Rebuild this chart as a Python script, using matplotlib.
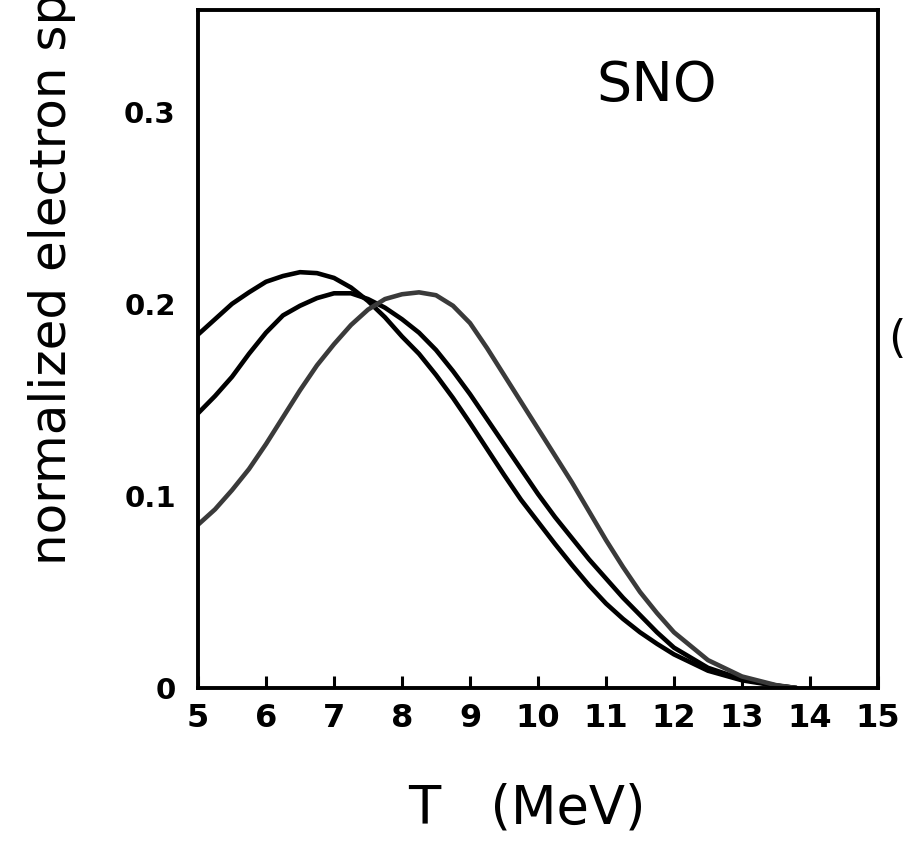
import matplotlib
matplotlib.use("Agg")
import matplotlib.pyplot as plt

# Data
T = [5.0, 5.25, 5.5, 5.75, 6.0, 6.25, 6.5, 6.75, 7.0, 7.25, 7.5, 7.75,
     8.0, 8.25, 8.5, 8.75, 9.0, 9.25, 9.5, 9.75, 10.0, 10.25, 10.5, 10.75,
     11.0, 11.25, 11.5, 11.75, 12.0, 12.5, 13.0, 13.5, 13.8]
curve_a = [0.184, 0.192, 0.200, 0.206, 0.2115, 0.2145, 0.2165, 0.2160,
           0.2135, 0.2085, 0.2015, 0.193, 0.183, 0.174, 0.163, 0.151,
           0.138, 0.1245, 0.111, 0.098, 0.0865, 0.075, 0.064, 0.0535,
           0.044, 0.036, 0.029, 0.023, 0.0175, 0.009, 0.004, 0.0012, 0.0]
curve_b = [0.143, 0.152, 0.162, 0.174, 0.185, 0.194, 0.199, 0.203,
           0.2055, 0.2055, 0.2025, 0.198, 0.192, 0.185, 0.176, 0.165,
           0.153, 0.140, 0.127, 0.114, 0.101, 0.089, 0.078, 0.067,
           0.057, 0.047, 0.038, 0.029, 0.021, 0.0105, 0.0046, 0.0013, 0.0]
curve_c = [0.085, 0.093, 0.103, 0.114, 0.127, 0.141, 0.155, 0.168,
           0.179, 0.189, 0.197, 0.2025, 0.205, 0.206, 0.2045, 0.199,
           0.190, 0.177, 0.163, 0.149, 0.135, 0.121, 0.107, 0.092,
           0.077, 0.063, 0.050, 0.039, 0.029, 0.0145, 0.006, 0.0015, 0.0]

x_ticks = [5, 6, 7, 8, 9, 10, 11, 12, 13, 14, 15]
y_ticks = [0, 0.1, 0.2, 0.3]
y_tick_labels = ["0", "0.1", "0.2", "0.3"]

W, H = 904, 842
fig = plt.figure(figsize=(W / 100, H / 100), dpi=100)
ax = fig.add_axes([198 / W, 1 - 688 / H, 680 / W, 678 / H])

lw = 3.3
style = dict(lw=lw, solid_joinstyle="round", solid_capstyle="round")
ax.plot(T, curve_a, color="black", **style)
ax.plot(T, curve_b, color="black", **style)
ax.plot(T, curve_c, color="#3a3a3a", **style)

ax.set_xlim(5, 15)
ax.set_ylim(0, 0.353)

for s in ax.spines.values():
    s.set_linewidth(2.8)

ax.set_xticks(x_ticks)
ax.set_xticklabels([str(v) for v in x_ticks], fontsize=23, fontweight="bold")
ax.set_yticks(y_ticks)
ax.set_yticklabels(y_tick_labels, fontsize=21, fontweight="bold")
ax.tick_params(axis="x", direction="in", length=9, width=2.2, pad=11)
ax.tick_params(axis="y", length=0, pad=16)

fig.text(657 / W, 1 - 86 / H, "SNO", ha="center", va="center",
         fontsize=40, family=["DejaVu Sans"])

fig.text(527 / W, 1 - 808 / H, "T   (MeV)", ha="center", va="center",
         fontsize=38, family=["DejaVu Sans"])

fig.text(52 / W, 1 - 565 / H, "normalized electron spectrum", rotation=90,
         ha="center", va="bottom", fontsize=36, family=["DejaVu Sans"])

fig.text(888 / W, 1 - 340 / H, "(", ha="left", va="center", fontsize=32,
         family=["DejaVu Sans"])

fig.savefig("out.png", dpi=100)
